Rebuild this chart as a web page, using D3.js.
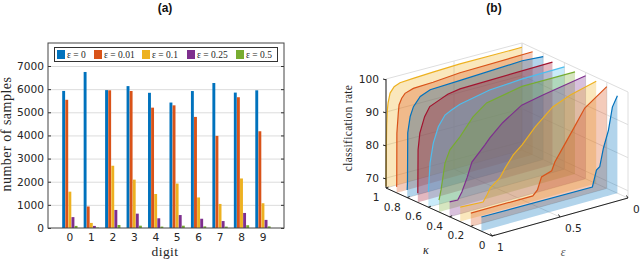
<!DOCTYPE html>
<html><head><meta charset="utf-8">
<script src="https://cdnjs.cloudflare.com/ajax/libs/d3/7.8.5/d3.min.js"></script>
<style>html,body{margin:0;padding:0;background:#fff}svg{display:block}</style></head>
<body><svg id="c" width="640" height="260"></svg>
<script>
const digits=[0,1,2,3,4,5,6,7,8,9];
const barTicks=[0,1000,2000,3000,4000,5000,6000,7000];
const legendLabels=["ε = 0","ε = 0.01","ε = 0.1","ε = 0.25","ε = 0.5"];
const barColors=["#0072BD","#D95319","#EDB120","#7E2F8E","#77AC30"];
const eps0=[5923,6742,5958,6131,5842,5421,5918,6265,5851,5949];
const eps001=[5540,930,5950,5920,5200,5300,4800,3980,5650,4180];
const eps01=[1570,220,2690,2090,1470,1920,1320,1040,2140,1070];
const eps025=[470,90,780,620,420,560,400,300,650,350];
const eps05=[90,20,130,100,60,100,70,60,120,70];
const barSeries=[eps0,eps001,eps01,eps025,eps05];

const kappaValues=[1,0.9,0.8,0.7,0.6,0.5,0.4,0.3,0.2,0.1];
const curveColors=["#EDB120","#D95319","#0072BD","#A2142F","#4DBEEE","#77AC30","#7E2F8E","#EDB120","#D95319","#0072BD"];
const e10=[1,0.998,0.995,0.99,0.985,0.97,0.94,0.897,0.8,0.655,0.456,0];
const r10=[67.5,78.5,86,90.5,92.5,95.4,97,97.7,97.9,98.1,98.3,98.1];
const e09=[1,0.999,0.998,0.9875,0.982,0.9625,0.938,0.877,0.732,0.534,0];
const r09=[68.8,70,85,91,93.4,95.2,96.4,97.2,97.4,98,98.2];
const e08=[1,0.998,0.996,0.978,0.954,0.904,0.831,0.61,0.154,0];
const r08=[69.3,71.4,86.6,91.3,94,96.5,97.7,98,98.7,98.2];
const e07=[1,0.998,0.985,0.95,0.912,0.84,0.78,0.69,0.01];
const r07=[69.8,82.9,87.8,92.4,95,96.2,97.2,97.8,98.1];
const e06=[1,0.988,0.964,0.927,0.878,0.83,0.768,0.55,0.31,0];
const r06=[71.7,80.2,86,90.5,93.5,94.5,95.5,97.3,97.9,98];
const e05=[1,0.985,0.956,0.92,0.846,0.75,0.65,0.39,0];
const r05=[70.6,73.5,81.3,84.9,88,92.9,96,98,97.9];
const e04=[1,0.94,0.91,0.872,0.836,0.74,0.704,0.61,0.47,0.31,0];
const r04=[71.5,71.4,73.5,77.3,81.7,85.8,87.5,91,94.7,96,98.2];
const e03=[1,0.832,0.8,0.78,0.71,0.67,0.61,0.545,0.45,0.32,0.19,0];
const r03=[71.4,71,73,74.6,76.8,79.4,82.7,85,89.3,93.9,96,98];
const e02=[1,0.544,0.51,0.48,0.405,0.382,0.324,0.25,0.162,0];
const r02=[71,71,72.4,76,77,79.4,83,87.6,93.2,97.8];
const e01=[1,0.184,0.154,0.13,0.103,0.066,0.037,0];
const r01=[71.3,71,75.8,76.5,81.8,86.8,93.5,96.5];
const curveEps=[e10,e09,e08,e07,e06,e05,e04,e03,e02,e01];
const curveRate=[r10,r09,r08,r07,r06,r05,r04,r03,r02,r01];
const rateTicks=[70,80,90,100];
const kappaTicks=[0,0.2,0.4,0.6,0.8,1];
const epsTicks=[0,0.5,1];

const svg=d3.select("#c");
const sans="'DejaVu Sans',sans-serif", serif="'Liberation Serif',serif";
const txt="#262626";

// ---------- (a)
svg.append("text").attr("x",165).attr("y",12).attr("text-anchor","middle")
  .attr("font-family","'Liberation Sans',sans-serif").attr("font-weight","bold").attr("font-size",12).attr("fill","#111").text("(a)");
const L=48,R=284,T=43,B=228;
const x=d3.scaleLinear().domain([-1,10]).range([L,R]);
const y=d3.scaleLinear().domain([0,7000]).range([B,66]);
const a=svg.append("g");
a.selectAll(".g").data(barTicks.slice(1)).join("line")
  .attr("x1",L).attr("x2",R).attr("y1",d=>y(d)+.5).attr("y2",d=>y(d)+.5).attr("stroke","#dcdcdc").attr("stroke-width",1);
const bw=3.1;
barSeries.forEach((s,i)=>{
  a.append("g").selectAll("rect").data(s).join("rect")
   .attr("x",(d,j)=>x(digits[j])+0.5+(i-2.5)*bw).attr("width",bw-0.2)
   .attr("y",d=>y(d)).attr("height",d=>B-y(d)).attr("fill",barColors[i]);
});
const ax=d3.axisBottom(x).tickValues(digits).tickSize(0).tickPadding(5).tickFormat(d3.format("d"));
const gb=a.append("g").attr("transform",`translate(0,${B})`).call(ax);
const ay=d3.axisLeft(y).tickValues(barTicks).tickSize(-3).tickPadding(4).tickFormat(d3.format("d"));
const gl=a.append("g").attr("transform",`translate(${L},0)`).call(ay);
const ar=d3.axisRight(y).tickValues(barTicks).tickSize(-3).tickFormat("");
const gr=a.append("g").attr("transform",`translate(${R},0)`).call(ar);
[gb,gl,gr].forEach(g=>{g.select(".domain").remove();g.selectAll("line").attr("stroke","#333");
  g.selectAll("text").attr("font-family",sans).attr("font-size",10.6).attr("fill",txt);});
a.append("rect").attr("x",L).attr("y",T).attr("width",R-L).attr("height",B-T).attr("fill","none").attr("stroke","#444").attr("stroke-width",1);
a.append("text").attr("x",165).attr("y",256).attr("text-anchor","middle").attr("font-family",serif).attr("font-size",13.5).attr("fill",txt).attr("letter-spacing",.4).text("digit");
a.append("text").attr("transform","translate(11,134) rotate(-90)").attr("text-anchor","middle").attr("font-family",serif).attr("font-size",14).attr("fill",txt).attr("letter-spacing",.5).text("number of samples");
// legend
a.append("rect").attr("x",54.5).attr("y",47.5).attr("width",223).attr("height",14).attr("fill","#fff").attr("stroke","#333").attr("stroke-width",1);
const legendX=[57,94,142,187,236];
legendLabels.forEach((t,i)=>{
  a.append("rect").attr("x",legendX[i]).attr("y",50).attr("width",8).attr("height",9).attr("fill",barColors[i]);
  a.append("text").attr("x",legendX[i]+10).attr("y",57.5).attr("font-family",serif).attr("font-size",9.5).attr("fill",txt).text(t);
});

// ---------- (b)
svg.append("text").attr("x",494).attr("y",12).attr("text-anchor","middle")
  .attr("font-family","'Liberation Sans',sans-serif").attr("font-weight","bold").attr("font-size",12).attr("fill","#111").text("(b)");
const xE=d3.scaleLinear().domain([1,0]).range([0,136]);
const yE=d3.scaleLinear().domain([1,0]).range([0,-38]);
const xK=d3.scaleLinear().domain([0,1]).range([492,386]);
const yK=d3.scaleLinear().domain([0,1]).range([236,188]);
const yZ=d3.scaleLinear().domain([67,100]).range([0,-109]);
const px=(e,k)=>xE(e)+xK(k), py=(e,k,z)=>yE(e)+yK(k)+yZ(z);
const b=svg.append("g");
const seg=(e1,k1,z1,e2,k2,z2,col,w)=>b.append("line")
  .attr("x1",px(e1,k1)).attr("y1",py(e1,k1,z1)).attr("x2",px(e2,k2)).attr("y2",py(e2,k2,z2))
  .attr("stroke",col).attr("stroke-width",w);
const grid="#dedede", zMax=100, zBack=99.4, zRight=99.1;
// walls & floor grid
rateTicks.slice(0,3).forEach(z=>{seg(1,1,z,0,1,z-.5,grid,1);seg(0,1,z-.5,0,0,z-.8,grid,1);});
seg(1,1,zMax,0,1,zBack,grid,1);seg(0,1,zBack,0,0,zRight,grid,1);
kappaTicks.forEach(k=>{seg(0,k,67,0,k,zRight+(zBack-zRight)*k,grid,1);seg(1,k,67,0,k,67,grid,1);});
epsTicks.forEach(e=>{seg(e,1,67,e,1,zBack+(zMax-zBack)*e,grid,1);seg(e,0,67,e,1,67,grid,1);});
// slices back to front
const sliceArea=d3.area().x(d=>px(d.e,d.k)).y0(d=>py(d.e,d.k,67)).y1(d=>py(d.e,d.k,d.r));
const sliceLine=d3.line().x(d=>px(d.e,d.k)).y(d=>py(d.e,d.k,d.r));
kappaValues.forEach((k,i)=>{
  const pts=curveEps[i].map((e,j)=>({e,k,r:curveRate[i][j]}));
  b.append("path").datum(pts).attr("d",sliceArea).attr("fill",curveColors[i]).attr("fill-opacity",.3);
  b.append("path").datum(pts).attr("d",sliceLine).attr("fill","none").attr("stroke",curveColors[i]).attr("stroke-width",1.2);
});
// axes
const ink="#222";
seg(1,1,67,1,1,zMax,ink,1);
seg(1,1,67,1,0,67,ink,1);
seg(1,0,67,0,0,67,ink,1);
rateTicks.forEach(z=>{
  const X=px(1,1),Y=py(1,1,z);
  b.append("line").attr("x1",X-3).attr("x2",X).attr("y1",Y).attr("y2",Y+.8).attr("stroke",ink);
  b.append("text").attr("x",X-7).attr("y",Y+4).attr("text-anchor","end").attr("font-family",sans).attr("font-size",10.6).attr("fill",txt).text(z);
});
kappaTicks.forEach(k=>{
  const X=px(1,k),Y=py(1,k,67);
  b.append("line").attr("x1",X).attr("x2",X+2.5).attr("y1",Y).attr("y2",Y-1).attr("stroke",ink);
  b.append("text").attr("x",X-6.5).attr("y",Y+13).attr("text-anchor","end").attr("font-family",sans).attr("font-size",10.6).attr("fill",txt).text(k);
});
epsTicks.forEach(e=>{
  const X=px(e,0),Y=py(e,0,67);
  b.append("line").attr("x1",X).attr("x2",X-1.5).attr("y1",Y).attr("y2",Y-2.5).attr("stroke",ink);
  b.append("text").attr("x",X+5).attr("y",Y+15).attr("text-anchor","start").attr("font-family",sans).attr("font-size",10.6).attr("fill",txt).text(e);
});
b.append("text").attr("transform","translate(352,128) rotate(-90)").attr("text-anchor","middle").attr("font-family",serif).attr("font-size",11.5).attr("fill",txt).attr("letter-spacing",.3).text("classification rate");
b.append("text").attr("x",426).attr("y",254).attr("text-anchor","middle").attr("font-family",serif).attr("font-style","italic").attr("font-size",12).attr("fill",txt).text("κ");
b.append("text").attr("x",563).attr("y",256).attr("text-anchor","middle").attr("font-family",serif).attr("font-style","italic").attr("font-size",12).attr("fill","#555").text("ε");
</script></body></html>
